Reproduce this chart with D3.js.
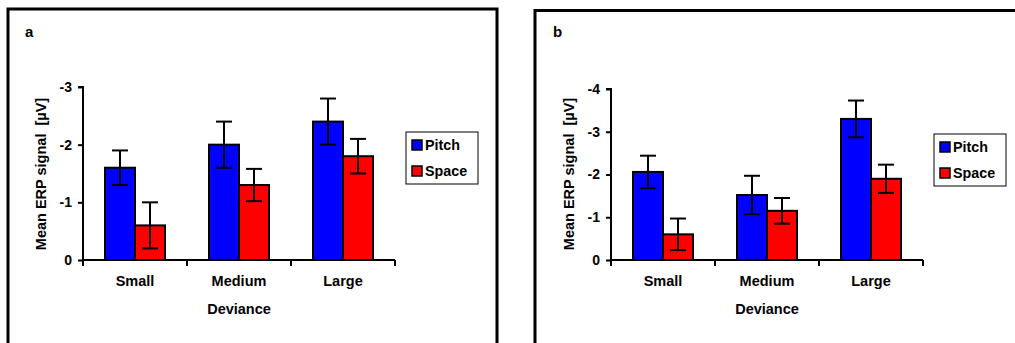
<!DOCTYPE html>
<html>
<head>
<meta charset="utf-8">
<script src="https://cdn.jsdelivr.net/npm/d3@7"></script>
<style>
  body { margin: 0; background: #fff; }
  svg text { font-family: "Liberation Sans", Arial, sans-serif; font-weight: bold; fill: #000; }
</style>
</head>
<body>
<svg id="chart" width="1015" height="343"></svg>
<script>
// data
var categories = ['Small', 'Medium', 'Large'];
var seriesNames = ['Pitch', 'Space'];
var colors = ['#0000ff', '#ff0000'];

// panel a (values plotted as negative microvolts, axis inverted)
var aPitch = [1.6, 2.0, 2.4];
var aPitchErr = [0.3, 0.4, 0.4];
var aSpace = [0.6, 1.3, 1.8];
var aSpaceErr = [0.4, 0.28, 0.3];
var aTicks = [0, 1, 2, 3];

// panel b
var bPitch = [2.06, 1.52, 3.3];
var bPitchErr = [0.38, 0.45, 0.43];
var bSpace = [0.6, 1.15, 1.9];
var bSpaceErr = [0.37, 0.3, 0.33];
var bTicks = [0, 1, 2, 3, 4];

var svg = d3.select('#chart');

// panel frames
svg.append('path').attr('d', 'M8,343 V9 H497 V343')
   .attr('fill', 'none').attr('stroke', '#000').attr('stroke-width', 3);
svg.append('path').attr('d', 'M535,343 V10.5 H1015')
   .attr('fill', 'none').attr('stroke', '#000').attr('stroke-width', 3);

function drawPanel(opt) {
    var g = svg.append('g');
    var x0 = d3.scaleBand().domain(categories).range([opt.left, opt.left + 312]);
    var x1 = d3.scaleBand().domain(seriesNames).range([22, 82]);
    var y = d3.scaleLinear().domain([0, opt.max]).range([260, opt.top]);

    var rows = categories.map(function (c, i) {
        return [
            { cat: c, s: 0, v: opt.pitch[i], e: opt.pitchErr[i] },
            { cat: c, s: 1, v: opt.space[i], e: opt.spaceErr[i] }
        ];
    });

    var grp = g.selectAll('.grp').data(rows).enter().append('g')
        .attr('transform', function (d) { return 'translate(' + x0(d[0].cat) + ',0)'; });

    grp.selectAll('rect').data(function (d) { return d; }).enter().append('rect')
        .attr('x', function (d) { return x1(seriesNames[d.s]); })
        .attr('width', x1.bandwidth())
        .attr('y', function (d) { return y(d.v); })
        .attr('height', function (d) { return 260 - y(d.v); })
        .attr('fill', function (d) { return colors[d.s]; })
        .attr('stroke', '#000').attr('stroke-width', 2);

    // error bars
    var eb = grp.selectAll('.eb').data(function (d) { return d; }).enter().append('g')
        .attr('stroke', '#000').attr('stroke-width', 2);
    eb.append('line')
        .attr('x1', function (d) { return x1(seriesNames[d.s]) + x1.bandwidth() / 2; })
        .attr('x2', function (d) { return x1(seriesNames[d.s]) + x1.bandwidth() / 2; })
        .attr('y1', function (d) { return y(d.v - d.e); })
        .attr('y2', function (d) { return y(d.v + d.e); });
    [-1, 1].forEach(function (sgn) {
        eb.append('line')
            .attr('x1', function (d) { return x1(seriesNames[d.s]) + x1.bandwidth() / 2 - 8; })
            .attr('x2', function (d) { return x1(seriesNames[d.s]) + x1.bandwidth() / 2 + 8; })
            .attr('y1', function (d) { return y(d.v + sgn * d.e); })
            .attr('y2', function (d) { return y(d.v + sgn * d.e); });
    });

    // y axis
    var yAxis = g.append('g').attr('transform', 'translate(' + opt.left + ',0)')
        .call(d3.axisLeft(y).tickValues(opt.ticks).tickSize(5).tickPadding(6)
            .tickFormat(function (d) { return d === 0 ? '0' : '-' + d; }));
    yAxis.select('.domain').attr('stroke-width', 2).attr('d', 'M-5,' + opt.top + 'H0V260');
    yAxis.selectAll('.tick line').attr('stroke-width', 2);
    yAxis.selectAll('.tick text').style('font-size', '14px');

    // x axis
    var xAxis = g.append('g').attr('transform', 'translate(0,260)')
        .call(d3.axisBottom(x0).tickSize(0).tickPadding(16));
    xAxis.select('.domain').attr('stroke-width', 2).attr('d', 'M' + opt.left + ',0H' + (opt.left + 312));
    xAxis.selectAll('.tick text').style('font-size', '14.5px');
    g.selectAll('.sep').data(d3.range(4)).enter().append('line')
        .attr('x1', function (i) { return opt.left + i * x0.step(); })
        .attr('x2', function (i) { return opt.left + i * x0.step(); })
        .attr('y1', 260).attr('y2', 266)
        .attr('stroke', '#000').attr('stroke-width', 2);

    g.append('text').attr('x', opt.left + 156).attr('y', 314)
        .attr('text-anchor', 'middle').style('font-size', '14.5px').text('Deviance');
    g.append('text')
        .attr('transform', 'translate(' + (opt.left - 37) + ',174) rotate(-90)')
        .attr('text-anchor', 'middle').style('font-size', '14.5px')
        .attr('xml:space', 'preserve').text('Mean ERP signal  [\u00b5V]');
    g.append('text').attr('x', opt.left - 58).attr('y', 37)
        .style('font-size', '15px').text(opt.label);

    // legend
    var lg = g.append('g').attr('transform', 'translate(' + opt.legX + ',' + opt.legY + ')');
    lg.append('rect').attr('width', 72).attr('height', 52)
        .attr('fill', '#fff').attr('stroke', '#000').attr('stroke-width', 1);
    var item = lg.selectAll('.item').data(seriesNames).enter().append('g')
        .attr('transform', function (d, i) { return 'translate(6,' + (8 + i * 26) + ')'; });
    item.append('rect').attr('width', 10).attr('height', 10)
        .attr('fill', function (d, i) { return colors[i]; })
        .attr('stroke', '#000').attr('stroke-width', 1.5);
    item.append('text').attr('x', 13).attr('y', 10)
        .style('font-size', '14.3px').text(function (d) { return d; });
}

drawPanel({ left: 83, top: 87, max: 3, ticks: aTicks, label: 'a',
    pitch: aPitch, pitchErr: aPitchErr, space: aSpace, spaceErr: aSpaceErr,
    legX: 406, legY: 132 });
drawPanel({ left: 611, top: 89, max: 4, ticks: bTicks, label: 'b',
    pitch: bPitch, pitchErr: bPitchErr, space: bSpace, spaceErr: bSpaceErr,
    legX: 934, legY: 134 });
</script>
</body>
</html>
